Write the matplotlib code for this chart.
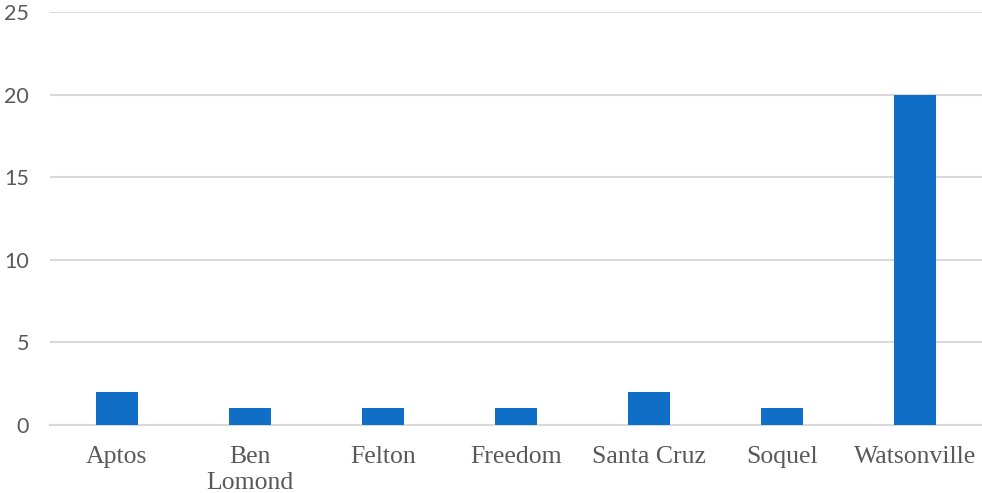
import matplotlib.pyplot as plt

towns = ["Aptos", "Ben\nLomond", "Felton", "Freedom", "Santa Cruz", "Soquel", "Watsonville"]
counts = [2, 1, 1, 1, 2, 1, 20]
y_ticks = [0, 5, 10, 15, 20, 25]

fig = plt.figure(figsize=(9.82, 4.93), dpi=100)
ax = fig.add_axes([0.0509, 0.138, 0.9491, 0.8377])

x = range(len(towns))
ax.bar(x, counts, width=0.315, color="#0F6FC6", zorder=3)

ax.set_xlim(-0.5, len(towns) - 0.5)
ax.set_ylim(0, 25)
ax.set_yticks(y_ticks)
ax.set_xticks(list(x))
ax.set_xticklabels(towns, family="Liberation Serif", fontsize=18.5, color="#595959",
                   linespacing=1.25)
for lbl in ax.get_yticklabels():
    lbl.set_family("Lato")
    lbl.set_fontsize(15.5)
    lbl.set_color("#595959")

ax.grid(axis="y", color="#d9d9d9", linewidth=1.5, zorder=0)
for s in ["top", "right", "left"]:
    ax.spines[s].set_visible(False)
ax.spines["bottom"].set_color("#d9d9d9")
ax.spines["bottom"].set_linewidth(1.5)
ax.tick_params(axis="both", length=0)
ax.tick_params(axis="x", pad=15)
ax.tick_params(axis="y", pad=15)

fig.savefig("out.png", dpi=100)
